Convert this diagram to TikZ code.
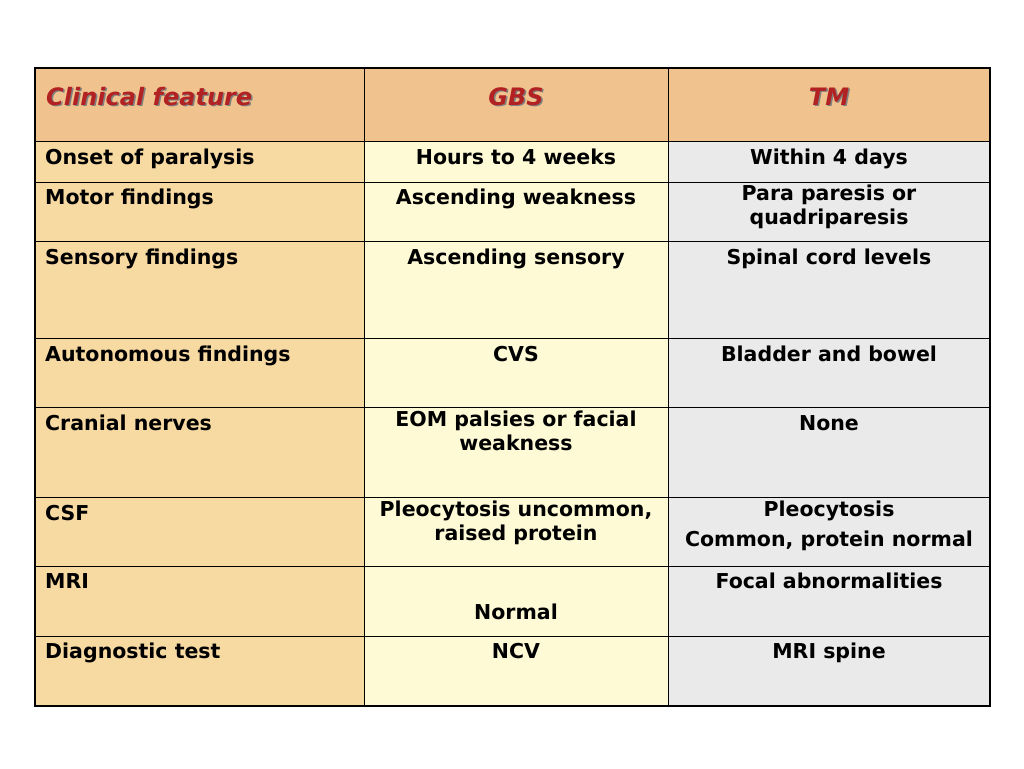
\documentclass[tikz,border=0pt]{standalone}
\usepackage{fontspec}
\setmainfont{DejaVu Sans}
\definecolor{hdr}{HTML}{F0C38E}
\definecolor{ca}{HTML}{F7D9A2}
\definecolor{cb}{HTML}{FEFAD6}
\definecolor{cc}{HTML}{EAEAEA}
\definecolor{red}{HTML}{B22222}
\begin{document}
\begin{tikzpicture}[x=1pt,y=-1pt,
 t/.style={anchor=base,font=\bfseries\fontsize{20.5}{24}\selectfont,align=center,inner sep=0pt},
 tm/.style={t,anchor=north},
 tl/.style={t,anchor=base west,align=left},
 h/.style={anchor=base,font=\bfseries\itshape\fontsize{24}{26}\selectfont,text=red,inner sep=0pt}]
\useasboundingbox (0,0) rectangle (1024,768);
\fill[hdr] (35,68) rectangle (990,141);
\fill[ca] (35,141) rectangle (364,706);
\fill[cb] (364,141) rectangle (668,706);
\fill[cc] (668,141) rectangle (990,706);
\foreach \y in {141,182,241,338,407,497,566,636} \draw[line width=1pt] (35,\y) -- (990,\y);
\foreach \x in {364,668} \draw[line width=1pt] (\x,68) -- (\x,706);
\draw[line width=2.5pt] (35,68) rectangle (990,706);
\node[h,anchor=base west,text=black!50] (s1) at (47.5,106.5) {Clinical feature};
\node[h,anchor=base west] (h1) at (46,105) {Clinical feature};
\node[h,text=black!50] (s2) at (517.5,106.5) {GBS};
\node[h] (h2) at (516,105) {GBS};
\node[h,text=black!50] (s3) at (830.5,106.5) {TM};
\node[h] (h3) at (829,105) {TM};
\node[tl] (a1) at (45,164) {Onset of paralysis};
\node[tl] (a2) at (45,204) {Motor findings};
\node[tl] (a3) at (45,264) {Sensory findings};
\node[tl] (a4) at (45,361) {Autonomous findings};
\node[tl] (a5) at (45,430) {Cranial nerves};
\node[tl] (a6) at (45,520) {CSF};
\node[tl] (a7) at (45,588) {MRI};
\node[tl] (a8) at (45,658) {Diagnostic test};
\node[t] (b1) at (516,164) {Hours to 4 weeks};
\node[t] (b2) at (516,204) {Ascending weakness};
\node[t] (b3) at (516,264) {Ascending sensory};
\node[t] (b4) at (516,361) {CVS};
\node[tm] (b5) at (516,411) {EOM palsies or facial\\weakness};
\node[tm] (b6) at (516,501) {Pleocytosis uncommon,\\raised protein};
\node[t] (b7) at (516,619) {Normal};
\node[t] (b8) at (516,658) {NCV};
\node[t] (c1) at (829,164) {Within 4 days};
\node[tm] (c2) at (829,185) {Para paresis or\\quadriparesis};
\node[t] (c3) at (829,264) {Spinal cord levels};
\node[t] (c4) at (829,361) {Bladder and bowel};
\node[t] (c5) at (829,430) {None};
\node[tm] (c6) at (829,501) {Pleocytosis\\[6pt]Common, protein normal};
\node[t] (c7) at (829,588) {Focal abnormalities};
\node[t] (c8) at (829,658) {MRI spine};
\end{tikzpicture}
\end{document}
